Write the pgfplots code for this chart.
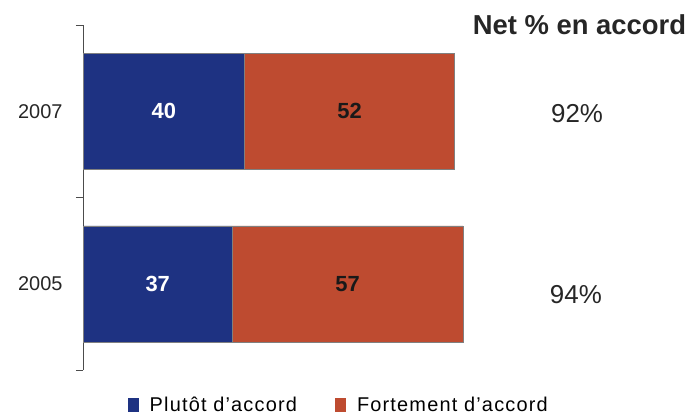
\documentclass[border=0pt]{standalone}
\usepackage{pgfplots}
\pgfplotsset{compat=1.18}
\usepackage{fontspec}
\setmainfont{Liberation Sans}
\definecolor{cblue}{RGB}{30,50,130}
\definecolor{cred}{RGB}{190,75,48}
\begin{document}
\begin{tikzpicture}[x=1bp,y=1bp]
\useasboundingbox (0,0) rectangle (691,415);
\begin{axis}[
  at={(83bp,45bp)}, anchor=south west,
  scale only axis, width=606bp, height=345bp,
  xbar stacked, bar width=116bp,
  xmin=0, xmax=150, ymin=-0.5, ymax=1.5,
  axis x line=none,
  axis y line*=left,
  y axis line style={black!70},
  ytick={0,1}, yticklabels={2005,2007},
  major tick length=0pt,
  extra y ticks={-0.5,0.5,1.5}, extra y tick labels={},
  extra y tick style={major tick length=7bp, tick align=outside, tick style={black!70}},
  yticklabel style={font=\fontsize{20}{22}\selectfont, xshift=-17bp, text=black!85},
  legend columns=2,
  legend style={at={(0.422,-0.101)}, anchor=center, draw=none, fill=none,
    font=\addfontfeatures{LetterSpace=6}\fontsize{20}{22}\selectfont, column sep=36bp,
    /tikz/every odd column/.append style={column sep=9bp}},
  legend image code/.code={\draw[#1, draw=none] (0bp,-7bp) rectangle (11bp,7bp);},
  clip=false,
]
\addplot[fill=cblue, draw=black!50] coordinates {(37,0) (40,1)};
\addplot[fill=cred, draw=black!50] coordinates {(57,0) (52,1)};
\legend{Plutôt d'accord, Fortement d'accord}
\coordinate (a40) at (axis cs:20,1);
\coordinate (a37) at (axis cs:18.5,0);
\coordinate (a52) at (axis cs:66,1);
\coordinate (a57) at (axis cs:65.5,0);
\coordinate (n92) at (axis cs:122.3,0.984);
\coordinate (n94) at (axis cs:122,-0.065);
\coordinate (hd) at (axis cs:122.9,1.5);
\end{axis}
\node[font=\bfseries\fontsize{22}{24}\selectfont, text=white] at (a40) {40};
\node[font=\bfseries\fontsize{22}{24}\selectfont, text=white] at (a37) {37};
\node[font=\bfseries\fontsize{22}{24}\selectfont, text=black!90] at (a52) {52};
\node[font=\bfseries\fontsize{22}{24}\selectfont, text=black!90] at (a57) {57};
\node[font=\fontsize{26}{28}\selectfont, text=black!85] at (n92) {92\%};
\node[font=\fontsize{26}{28}\selectfont, text=black!85] at (n94) {94\%};
\node[font=\bfseries\fontsize{27.5}{29}\selectfont, text=black!85] at (hd) {Net \% en accord};
\end{tikzpicture}
\end{document}
